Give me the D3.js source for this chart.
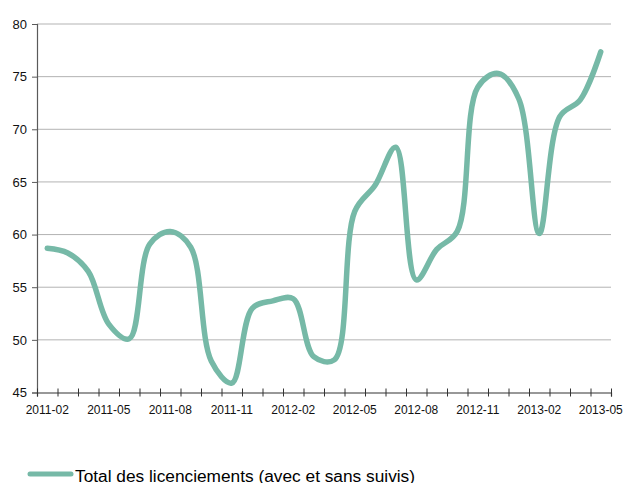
<!DOCTYPE html>
<html>
<head>
<meta charset="utf-8">
<script src="https://cdn.jsdelivr.net/npm/d3@7"></script>
<style>
  body { margin: 0; background: #fff; }
  svg { display: block; font-family: "Liberation Sans", Arial, sans-serif; }
</style>
</head>
<body>
<svg id="chart" width="624" height="483"></svg>
<script>
var months = ["2011-02", "2011-03", "2011-04", "2011-05", "2011-06", "2011-07", "2011-08",
  "2011-09", "2011-10", "2011-11", "2011-12", "2012-01", "2012-02", "2012-03", "2012-04",
  "2012-05", "2012-06", "2012-07", "2012-08", "2012-09", "2012-10", "2012-11", "2012-12",
  "2013-01", "2013-02", "2013-03", "2013-04", "2013-05"];

var licenciements = [58.7, 58.25, 56.5, 51.5, 50.1, 59.1, 60.3, 58.8, 48.0, 45.9, 53.0, 53.7,
  53.9, 48.4, 48.1, 62.2, 64.7, 68.3, 55.7, 58.6, 60.3, 74.0, 75.3, 72.9, 60.1, 71.2, 72.8, 77.35];

var yTicks = [45, 50, 55, 60, 65, 70, 75, 80];
var labelMonths = months.filter(function(d, i) { return i % 3 == 0; });
var seriesName = "Total des licenciements (avec et sans suivis)";

// plot area (note: "top" is reserved on window, so use other names)
var plotLeft = 37, plotRight = 611, plotTop = 24, plotBottom = 392.5;
var lineColor = "#76b9a7";

var svg = d3.select("#chart");

var x = d3.scaleBand()
  .domain(months)
  .range([plotLeft, plotRight])
  .padding(0);

var xIdx = d3.scaleLinear()
  .domain([0, months.length])
  .range([plotLeft, plotRight]);

var y = d3.scaleLinear()
  .domain([45, 80])
  .range([plotBottom, plotTop]);

// gridlines
svg.append("g")
  .selectAll("line")
  .data(yTicks.slice(1))
  .enter().append("line")
  .attr("x1", plotLeft)
  .attr("x2", plotRight)
  .attr("y1", function(d) { return y(d); })
  .attr("y2", function(d) { return y(d); })
  .attr("stroke", "#b3b3b3")
  .attr("stroke-width", 1);

// y axis
var yAxis = svg.append("g")
  .attr("transform", "translate(" + plotLeft + ",0)")
  .call(d3.axisLeft(y).tickValues(yTicks).tickSize(5).tickPadding(5));
yAxis.select(".domain").attr("stroke", "#5a5a5a").attr("stroke-width", 1.2);
yAxis.selectAll(".tick line").attr("stroke", "#5a5a5a");
yAxis.selectAll("text").attr("font-size", 13).attr("fill", "#111")
  .attr("font-family", "Liberation Sans, Arial, sans-serif");

// x axis tick marks at band edges
var xTickAxis = svg.append("g")
  .attr("transform", "translate(0," + plotBottom + ")")
  .call(d3.axisBottom(xIdx).tickValues(d3.range(0, months.length + 1)).tickSize(4).tickFormat(""));
xTickAxis.select(".domain").attr("stroke", "#333").attr("stroke-width", 1.2);
xTickAxis.selectAll(".tick line").attr("stroke", "#333").attr("y1", -4).attr("y2", 4);

// x labels
var xAxis = svg.append("g")
  .attr("transform", "translate(0," + plotBottom + ")")
  .call(d3.axisBottom(x).tickValues(labelMonths).tickSize(0).tickPadding(13));
xAxis.select(".domain").remove();
xAxis.selectAll("text").attr("font-size", 12).attr("fill", "#111")
  .attr("font-family", "Liberation Sans, Arial, sans-serif");

// line
var line = d3.line()
  .x(function(d, i) { return x(months[i]) + x.bandwidth() / 2; })
  .y(function(d) { return y(d); })
  .curve(d3.curveCatmullRom.alpha(0.5));

svg.append("path")
  .datum(licenciements)
  .attr("d", line)
  .attr("fill", "none")
  .attr("stroke", lineColor)
  .attr("stroke-width", 5.5)
  .attr("stroke-linecap", "round")
  .attr("stroke-linejoin", "round");

// legend
var legend = svg.append("g").attr("transform", "translate(0,474)");
legend.append("line")
  .attr("x1", 30).attr("x2", 71)
  .attr("y1", 0).attr("y2", 0)
  .attr("stroke", lineColor)
  .attr("stroke-width", 5)
  .attr("stroke-linecap", "round");
legend.append("text")
  .attr("x", 75)
  .attr("y", 8)
  .attr("font-size", 17.3)
  .attr("fill", "#000")
  .text(seriesName);
</script>
</body>
</html>
